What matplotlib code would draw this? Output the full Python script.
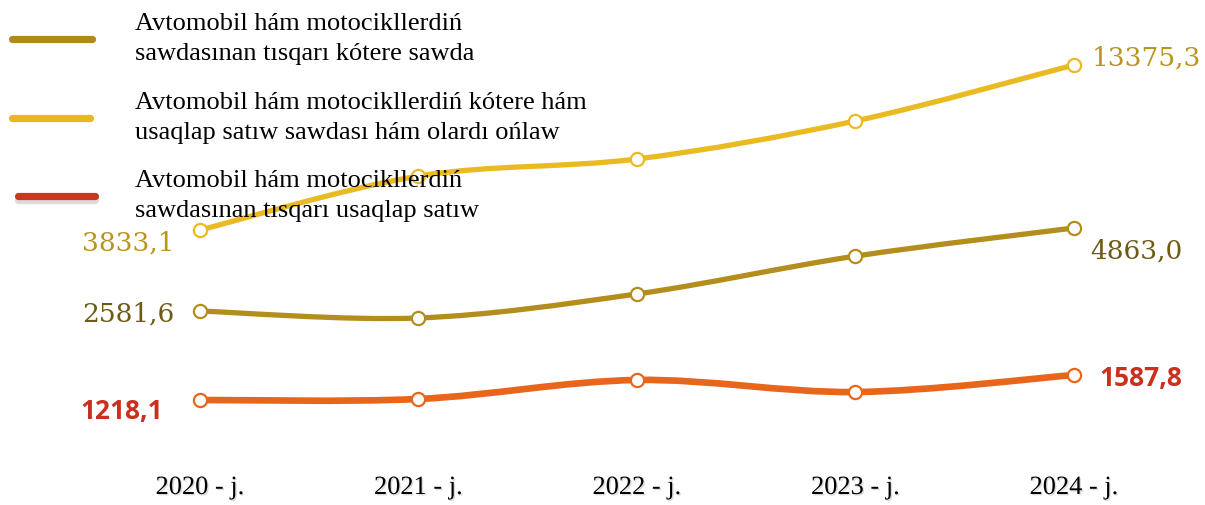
import numpy as np
import matplotlib.pyplot as plt
import matplotlib.patheffects as pe
from matplotlib.path import Path
from matplotlib.patches import PathPatch
from matplotlib.lines import Line2D

years = ['2020 - j.', '2021 - j.', '2022 - j.', '2023 - j.', '2024 - j.']
kotere_sawda = [2581.6, 2390.0, 3050.0, 4090.0, 4863.0]
kotere_usaqlap = [3833.1, 6950.0, 7940.0, 10140.0, 13375.3]
usaqlap_satiw = [1218.1, 1233.0, 1514.0, 1336.0, 1587.8]

legend_labels = [
    'Avtomobil hám motocikllerdiń\nsawdasınan tısqarı kótere sawda',
    'Avtomobil hám motocikllerdiń kótere hám\nusaqlap satıw sawdası hám olardı ońlaw',
    'Avtomobil hám motocikllerdiń\nsawdasınan tısqarı usaqlap satıw',
]


def smooth_path(x, y):
    # Catmull-Rom kriviyi Bezier túrinde (Excel "smoothed line" siyaqlı)
    p = np.column_stack([x, y]).astype(float)
    ext = np.vstack([p[0], p, p[-1]])
    verts = [p[0]]
    codes = [Path.MOVETO]
    for i in range(len(p) - 1):
        p0, p1, p2, p3 = ext[i], ext[i + 1], ext[i + 2], ext[i + 3]
        verts += [p1 + (p2 - p0) / 6, p2 - (p3 - p1) / 6, p2]
        codes += [Path.CURVE4] * 3
    return Path(verts, codes)


fig = plt.figure(figsize=(12.05, 5.06), dpi=100)
ax_ol = fig.add_axes([0, 0, 1, 1])
ax_ye = ax_ol.twinx()
ax_or = ax_ol.twinx()

x = np.arange(len(years))
series = [
    (ax_ol, kotere_sawda, '#B38E1C', 3.8, (-2749, 11156)),
    (ax_ye, kotere_usaqlap, '#EABA22', 3.8, (-12070, 17192)),
    (ax_or, usaqlap_satiw, '#E8661C', 4.8, (-335, 7149)),
]
for ax, vals, col, lw, lim in series:
    ax.set_xlim(-0.915, 4.6)
    ax.set_ylim(*lim)
    ax.add_patch(PathPatch(smooth_path(x, vals), facecolor='none', edgecolor=col,
                           lw=lw, capstyle='round', zorder=2))
    ax.plot(x, vals, linestyle='none', marker='o', markersize=9.5,
            markerfacecolor='white', markeredgecolor=col, markeredgewidth=1.6, zorder=3)
    ax.axis('off')

# qiymat jazıwları
num_font = dict(family='DejaVu Serif', fontsize=19)
red_font = dict(family='Open Sans', fontweight='bold', fontsize=19)
ax_ye.annotate('13375,3', (4, kotere_usaqlap[-1]), xytext=(18, 8), textcoords='offset pixels',
               ha='left', va='center', color='#B9941F', **num_font)
ax_ye.annotate('3833,1', (0, kotere_usaqlap[0]), xytext=(-25, -12), textcoords='offset pixels',
               ha='right', va='center', color='#B9941F', **num_font)
ax_ol.annotate('2581,6', (0, kotere_sawda[0]), xytext=(-25, -2), textcoords='offset pixels',
               ha='right', va='center', color='#6E5A14', **num_font)
ax_ol.annotate('4863,0', (4, kotere_sawda[-1]), xytext=(16, -22), textcoords='offset pixels',
               ha='left', va='center', color='#6E5A14', **num_font)
ax_or.annotate('1218,1', (0, usaqlap_satiw[0]), xytext=(-37, -11), textcoords='offset pixels',
               ha='right', va='center', color='#C9301E', **red_font)
ax_or.annotate('1587,8', (4, usaqlap_satiw[-1]), xytext=(26, -3), textcoords='offset pixels',
               ha='left', va='center', color='#C9301E', **red_font)

# jıl jazıwları
shadow = [pe.withSimplePatchShadow(offset=(1, -1), shadow_rgbFace='#999999', alpha=0.35)]
for i, lab in enumerate(years):
    ax_or.annotate(lab, (i, 0), xycoords=('data', 'figure fraction'), xytext=(0, 17),
                   textcoords='offset pixels', ha='center', va='center',
                   family='Liberation Serif', fontsize=19, color='black', path_effects=shadow)

# legenda
leg_colors = ['#AD8A1A', '#E8B820', '#C8381E']
leg_y = [40, 119, 197]
leg_x = [(12, 92), (12, 90), (18, 95)]
W, H = 1205, 506
for lab, col, yy, (x0, x1) in zip(legend_labels, leg_colors, leg_y, leg_x):
    ln = Line2D([x0 / W, x1 / W], [1 - yy / H, 1 - yy / H], transform=fig.transFigure,
                color=col, lw=5.2, solid_capstyle='round', zorder=5)
    if col == '#C8381E':
        ln.set_path_effects([pe.SimpleLineShadow(offset=(0, -3), shadow_color='#999999',
                                                 alpha=0.35), pe.Normal()])
    fig.add_artist(ln)
    fig.text(135 / W, 1 - yy / H + 1 / H, lab, ha='left', va='center', family='Liberation Serif',
             fontsize=19, linespacing=1.42, color='black', zorder=6)

fig.savefig('out.png', dpi=100)
